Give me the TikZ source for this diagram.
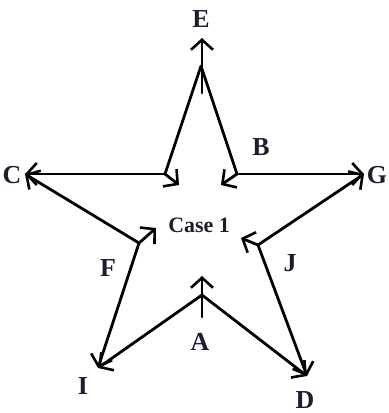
\documentclass[tikz,border=0pt]{standalone}
\usepackage{fontspec}
\setmainfont{Liberation Serif}
\usetikzlibrary{arrows.meta,calc}
\definecolor{labcol}{RGB}{28,30,48}
\begin{document}
\begin{tikzpicture}[x=1bp,y=-1bp,
  edge/.style={line width=2.8bp, line cap=round, line join=round},
  arr/.style={edge, -{Straight Barb[length=10bp,width=22bp,line width=2.6bp]}},
  lab/.style={font=\fontsize{26}{28}\selectfont\bfseries, text=labcol, inner sep=0pt},
  caselab/.style={font=\fontsize{22}{24}\selectfont\bfseries, text=labcol, inner sep=0pt}]
\useasboundingbox (0,0) rectangle (389,413);
% outer points
\coordinate (E0) at (201,66);
\coordinate (Et) at (202,38);
\coordinate (Eb) at (202,93);
\coordinate (C) at (25,174);
\coordinate (G) at (364,174);
\coordinate (I) at (98,368);
\coordinate (D) at (307,376);
% inner points
\coordinate (UL) at (165,174);
\coordinate (UR) at (237,174);
\coordinate (F) at (139,243);
\coordinate (J) at (258,245);
\coordinate (A) at (202,295);
\coordinate (Ab) at (202,317);
\coordinate (At) at (202,276);
% inward head tips
\coordinate (ULt) at (179,185);
\coordinate (URt) at (221,185);
\coordinate (Ft) at (156,228);
\coordinate (Jt) at (241,238);
% edges
\draw[edge] (E0) -- (UL);
\draw[edge] (E0) -- (UR);
\draw[arr] (Eb) -- (Et);
\draw[arr] (UL) -- (C);
\draw[arr] (UR) -- (G);
\draw[arr] (F) -- (C);
\draw[arr] (J) -- (G);
\draw[arr] (F) -- (I);
\draw[arr] (A) -- (I);
\draw[arr] (A) -- (D);
\draw[arr] (J) -- (D);
\draw[arr] (Ab) -- (At);
\draw[arr] (UL) -- (ULt);
\draw[arr] (UR) -- (URt);
\draw[arr] (F) -- (Ft);
\draw[arr] (J) -- (Jt);
% labels
\node[lab] (lE) at (201,19) {E};
\node[lab] (lB) at (261,147) {B};
\node[lab] (lC) at (12,175) {C};
\node[lab] (lG) at (377,175) {G};
\node[lab] (lF) at (108,268) {F};
\node[lab] (lJ) at (290,263) {J};
\node[lab] (lA) at (200,342) {A};
\node[lab] (lI) at (83,386) {I};
\node[lab] (lD) at (305,400) {D};
\node[caselab] (case) at (199,225) {Case 1};
\end{tikzpicture}
\end{document}
